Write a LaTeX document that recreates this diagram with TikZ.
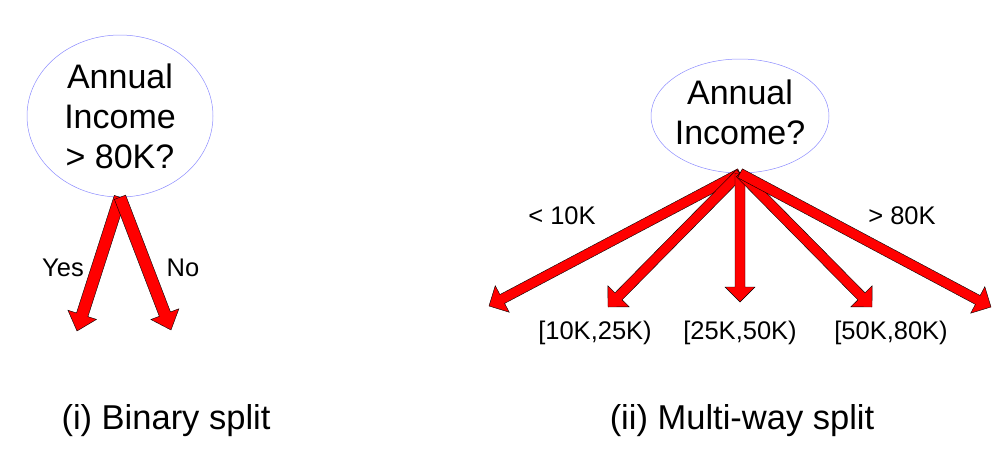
\documentclass[tikz,border=0pt]{standalone}
\usepackage{fontspec}
\setmainfont{Liberation Sans}
\usetikzlibrary{calc,shapes.geometric}
\definecolor{ovalblue}{RGB}{140,140,255}
\tikzset{
  oval/.style={ellipse, draw=ovalblue, line width=0.5pt, inner sep=0pt},
  big/.style={font=\fontsize{34}{40}\selectfont, align=center, inner sep=0pt},
  lab/.style={font=\fontsize{25.5}{28}\selectfont, inner sep=0pt},
  captext/.style={font=\fontsize{34.5}{40}\selectfont, inner sep=0pt},
  fat/.style n args={3}{draw=black, line width=0.4pt, fill=red, line join=miter,
    to path={let \p1=($(\tikztotarget)-(\tikztostart)$),
      \n1={atan2(\y1,\x1)}, \n2={veclen(\x1,\y1)}, \n3={veclen(\x1,\y1)-#3}
      in [shift={(\tikztostart)}, rotate=\n1]
      (0pt,-#1) -- (\n3,-#1) -- (\n3,-#2) -- (\n2,0pt)
      -- (\n3,#2) -- (\n3,#1) -- (0pt,#1) -- cycle}},
  fatL/.style={fat={6pt}{15pt}{17}},
  fatR/.style={fat={5pt}{15pt}{15}}
}
\begin{document}
\begin{tikzpicture}[x=1pt,y=-1pt]
\useasboundingbox (0,0) rectangle (1007,461);
% binary split
\node[oval, minimum width=186pt, minimum height=162pt] (e1) at (120,116) {};
\node[big] (q1) at (120,116) {Annual\\Income\\> 80K?};
\coordinate (t1) at (77,331);
\coordinate (t2) at (171,330);
\draw[fatL] (e1.south) to (t1);
\draw[fatL] (e1.south) to (t2);
\node[lab] (yes) at (63,268) {Yes};
\node[lab] (no) at (183,268) {No};
\node[captext] (c1) at (166,421) {(i) Binary split};
% multi-way split
\node[oval, minimum width=178pt, minimum height=114pt] (e2) at (740,116) {};
\node[big] (q2) at (740,112) {Annual\\Income?};
\coordinate (r1) at (489,306);
\coordinate (r2) at (608,307);
\coordinate (r3) at (740,302);
\coordinate (r4) at (872,307);
\coordinate (r5) at (991,307);
\draw[fatR] (e2.south) to (r1);
\draw[fatR] (e2.south) to (r2);
\draw[fatR] (e2.south) to (r3);
\draw[fatR] (e2.south) to (r4);
\draw[fatR] (e2.south) to (r5);
\node[lab] (l1) at (562,216) {< 10K};
\node[lab] (l5) at (902,216) {> 80K};
\node[lab] (l2) at (595,333) {[10K,25K)};
\node[lab] (l3) at (740,333) {[25K,50K)};
\node[lab] (l4) at (891,333) {[50K,80K)};
\node[captext] (c2) at (742,421) {(ii) Multi-way split};
\end{tikzpicture}
\end{document}
